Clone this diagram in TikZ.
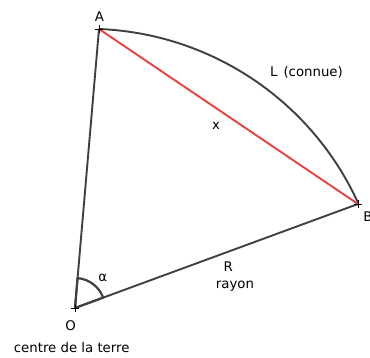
\documentclass[tikz,border=0pt]{standalone}
\usepackage{fontspec}
\setmainfont{DejaVu Sans}
\usetikzlibrary{calc}
\definecolor{linegray}{HTML}{404040}
\definecolor{chordred}{HTML}{E8413E}
\begin{document}
\begin{tikzpicture}[x=1pt,y=1pt,
  edge/.style={draw=linegray,line width=1.9pt},
  chord/.style={draw=chordred,line width=1.9pt},
  lbl/.style={font=\fontsize{13.3}{15}\selectfont,inner sep=0pt,text=black},
  tick/.style={draw=black,line width=0.8pt}]
\useasboundingbox (0,0) rectangle (370,358);
\fill[white] (0,0) rectangle (370,358);
\coordinate (O) at (75,50);
\coordinate (A) at (99,329);
\coordinate (B) at (358,154);
% sides
\draw[edge] (O) -- (A);
\draw[edge] (O) -- (B);
% arc
\draw[edge] (A) arc[start angle=87.7, end angle=24.6, radius=298];
% chord
\draw[chord] (A) -- (B);
% angle mark
\draw[draw=linegray,line width=2.2pt,line join=round] (O) -- ++(20.2:30) arc[start angle=20.2, end angle=85.1, radius=30] -- cycle;
% crosses
\foreach \p in {O,A,B}{
  \draw[tick] ($(\p)+(-4,0)$) -- ++(8,0);
  \draw[tick] ($(\p)+(0,-4)$) -- ++(0,8);
}
% labels
\node[lbl] (lA) at (99.3,341.5) {A};
\node[lbl] (lB) at (368,141.5) {B};
\node[lbl] (lO) at (70.7,32) {O};
\node[lbl] (lc) at (71.7,10) {centre de la terre};
\node[lbl] (lL) at (306.5,286) {L\hspace{6pt}(connue)};
\node[lbl] (lx) at (216,232) {x};
\node[lbl] (lR) at (228.3,91.5) {R};
\node[lbl] (lr) at (235,71.5) {rayon};
\node[lbl] (la) at (102.7,80) {α};
\end{tikzpicture}
\end{document}
